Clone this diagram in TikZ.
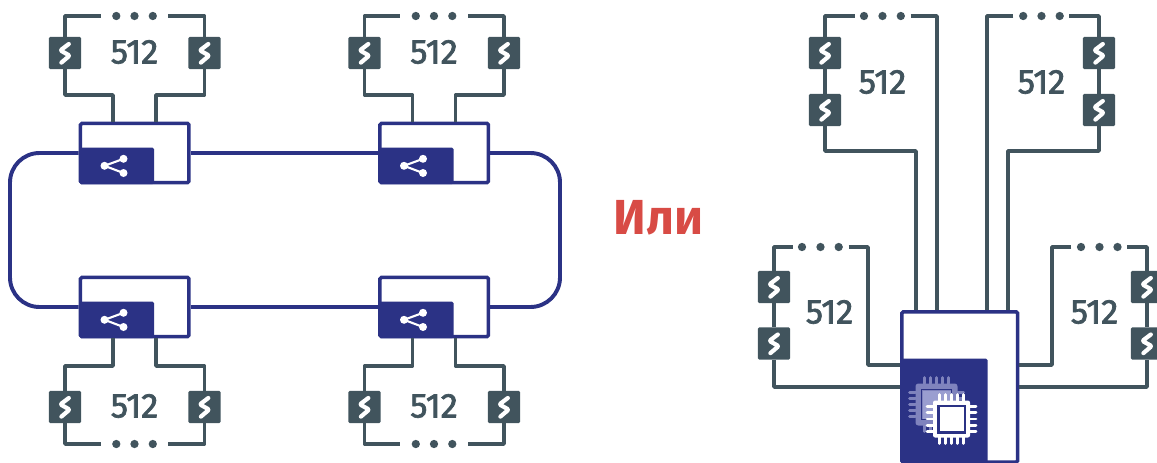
\documentclass[tikz,border=0pt]{standalone}
\usepackage{fontspec}
\setmainfont{Fira Sans}
\newfontfamily\numfont[Numbers=Proportional,FakeStretch=1,FakeBold=2]{Fira Sans}
\definecolor{wiregray}{HTML}{41545D}
\definecolor{ringblue}{HTML}{2B3285}
\definecolor{chiplight}{HTML}{7F83BD}
\definecolor{chippale}{HTML}{9A9ED0}
\definecolor{orred}{HTML}{D84B45}
\tikzset{wire/.style={draw=wiregray,line width=2.5pt,line join=round},
  ringline/.style={draw=ringblue,line width=2.8pt},
  gapshort/.style={shorten >=7.8pt},
  dotnode/.style={circle,fill=wiregray,inner sep=0pt,minimum size=5.9pt},
  countlabel/.style={text=wiregray,font=\numfont\fontsize{24.5}{26}\selectfont,inner sep=0pt},
  switchbox/.style={rectangle,fill=wiregray,rounded corners=.8pt,inner sep=0pt,minimum size=22.8pt,
    path picture={\draw[white,line width=3pt,line cap=round,line join=round]
      ([shift={(3.8,-9)}]path picture bounding box.center)--([shift={(-4.6,-2.6)}]path picture bounding box.center)
      --([shift={(4.6,2.6)}]path picture bounding box.center)--([shift={(-3.6,9.6)}]path picture bounding box.center);}},
  hubbox/.style={rectangle,draw=ringblue,line width=2.5pt,fill=white,rounded corners=1pt,inner sep=0pt,
    minimum width=77.2pt,minimum height=42pt},
  sharepanel/.style={rectangle,fill=ringblue,rounded corners=1.2pt,inner sep=0pt,
    minimum width=53.3pt,minimum height=26pt,
    path picture={\fill[white] ([shift={(-12.2,0)}]path picture bounding box.center) circle (4)
        ([shift={(6.8,-7)}]path picture bounding box.center) circle (4)
        ([shift={(6.8,7.2)}]path picture bounding box.center) circle (4);
      \draw[white,line width=1.5pt] ([shift={(6.8,-7)}]path picture bounding box.center)
        --([shift={(-12.2,0)}]path picture bounding box.center)--([shift={(6.8,7.2)}]path picture bounding box.center);}},
  chippin/.style={line width=2.1pt,line cap=round}}
\begin{document}
\begin{tikzpicture}[x=.025cm,y=-.025cm]
\useasboundingbox (0,0) rectangle (1157,462);
\coordinate (ringl) at (10,230); \coordinate (ringr) at (560,230);
\foreach \n/\x/\yb/\a/\ysw/\ydot/\yj/\ytxt in {ta/0/153/north/53/16/95/52,tb/299.5/153/north/53/16/95/52,
  ba/0/307/south/407/444/366/406,bb/299.5/307/south/407/444/366/406} {
\begin{scope}[shift={(\x,0)}]
\node[hubbox] (hub\n) at (134.7,\yb) {};
\node[sharepanel] (panel\n) at (116.7,\yb+12.8) {};
\node[switchbox] (swl\n) at (65,\ysw) {}; \node[switchbox] (swr\n) at (204.5,\ysw) {};
\node[dotnode] (dotl\n) at (116.3,\ydot) {}; \node[dotnode] (dotm\n) at (134.5,\ydot) {}; \node[dotnode] (dotr\n) at (152.8,\ydot) {};
\node[countlabel] (count\n) at (134.5,\ytxt) {512};
\coordinate (jl\n) at (113,\yj); \coordinate (jr\n) at (156,\yj);
\draw[wire,gapshort] (swl\n) |- (dotl\n); \draw[wire,gapshort] (swr\n) |- (dotr\n);
\draw[wire] (swl\n) |- (jl\n) -- (jl\n |- hub\n.\a);
\draw[wire] (swr\n) |- (jr\n) -- (jr\n |- hub\n.\a);
\end{scope}}
\draw[ringline] (hubta)--(hubtb) (hubba)--(hubbb);
\draw[ringline,rounded corners=21pt] (hubta.west) -| (ringl) |- (hubba.west);
\draw[ringline,rounded corners=21pt] (hubtb.east) -| (ringr) |- (hubbb.east);
\node[text=orred,font=\bfseries\fontsize{35}{38}\selectfont,inner sep=0pt] (orlabel) at (658.5,218) {Или};
\node[hubbox,minimum width=82.2pt,minimum height=107pt] (cpu) at (959.7,387) {};
\node[rectangle,fill=ringblue,rounded corners=1.2pt,inner sep=0pt,minimum width=61.6pt,minimum height=76pt] (cpupanel) at (944.3,412) {};
\node[switchbox] (sw1) at (825,53) {}; \node[switchbox] (sw2) at (825,110) {};
\node[dotnode] (dot1) at (864,16) {}; \node[dotnode] (dot2) at (882.5,16) {}; \node[dotnode] (dot3) at (900.8,16) {};
\node[countlabel] (count1) at (882.5,82) {512};
\coordinate (in1) at (916,151); \coordinate (in2) at (937,16);
\draw[wire,shorten >=3.6pt] (sw1) |- (dot1); \draw[wire] (sw1)--(sw2);
\draw[wire,shorten <=3.9pt] (dot3) -| (in2 |- cpu.north);
\draw[wire] (sw2) |- (in1) -- (in1 |- cpu.north);
\node[switchbox] (sw3) at (1099,53) {}; \node[switchbox] (sw4) at (1099,110) {};
\node[dotnode] (dot4) at (1023.2,16) {}; \node[dotnode] (dot5) at (1041.5,16) {}; \node[dotnode] (dot6) at (1059.7,16) {};
\node[countlabel] (count2) at (1041.5,82) {512};
\coordinate (in3) at (1008,151); \coordinate (in4) at (987,16);
\draw[wire,shorten >=3.6pt] (sw3) |- (dot6); \draw[wire] (sw3)--(sw4);
\draw[wire,shorten <=3.9pt] (dot4) -| (in4 |- cpu.north);
\draw[wire] (sw4) |- (in3) -- (in3 |- cpu.north);
\node[switchbox] (sw5) at (774,287) {}; \node[switchbox] (sw6) at (774,343.5) {};
\node[dotnode] (dot7) at (802,247) {}; \node[dotnode] (dot8) at (820.5,247) {}; \node[dotnode] (dot9) at (838.7,247) {};
\node[countlabel] (count3) at (829.5,312) {512};
\coordinate (in5) at (868,365); \coordinate (in6) at (901,387);
\draw[wire,shorten >=3.6pt] (sw5) |- (dot7); \draw[wire] (sw5)--(sw6);
\draw[wire,shorten <=3.9pt] (dot9) -| (in5) -- (in5 -| cpu.west);
\draw[wire] (sw6) |- (in6 -| cpu.west);
\node[switchbox] (sw7) at (1147,287) {}; \node[switchbox] (sw8) at (1147,343.5) {};
\node[dotnode] (dot10) at (1081,247) {}; \node[dotnode] (dot11) at (1099.5,247) {}; \node[dotnode] (dot12) at (1117.5,247) {};
\node[countlabel] (count4) at (1094.5,312) {512};
\coordinate (in7) at (1052,365); \coordinate (in8) at (1018,387);
\draw[wire,shorten >=3.6pt] (sw7) |- (dot12); \draw[wire] (sw7)--(sw8);
\draw[wire,shorten <=3.9pt] (dot10) -| (in7) -- (in7 -| cpu.east);
\draw[wire] (sw8) |- (in8 -| cpu.east);
\begin{scope}[shift={(936.5,404.5)}]
\foreach \t in {-12.4,-6.2,0,6.2,12.4} {
\draw[chippin,chiplight] (\t,-27)--(\t,-21) (\t,21)--(\t,27) (-27,\t)--(-21,\t) (21,\t)--(27,\t);}
\fill[chiplight,rounded corners=2pt] (-21,-21) rectangle (21,21);
\draw[ringblue,line width=1pt] (-15,-15) rectangle (15,15);
\fill[chippale] (-14,-14) rectangle (14,14);
\end{scope}
\begin{scope}[shift={(951.5,419)}]
\foreach \t in {-12.4,-6.2,0,6.2,12.4} {
\draw[chippin,white] (\t,-24.5)--(\t,-18) (\t,18)--(\t,24.5) (-24.5,\t)--(-18,\t) (18,\t)--(24.5,\t);}
\fill[white,rounded corners=1.5pt] (-18.5,-18.5) rectangle (18.5,18.5);
\fill[ringblue] (-14.5,-14.5) rectangle (14.5,14.5);
\fill[white] (-12,-12) rectangle (12,12);
\end{scope}
\end{tikzpicture}
\end{document}
